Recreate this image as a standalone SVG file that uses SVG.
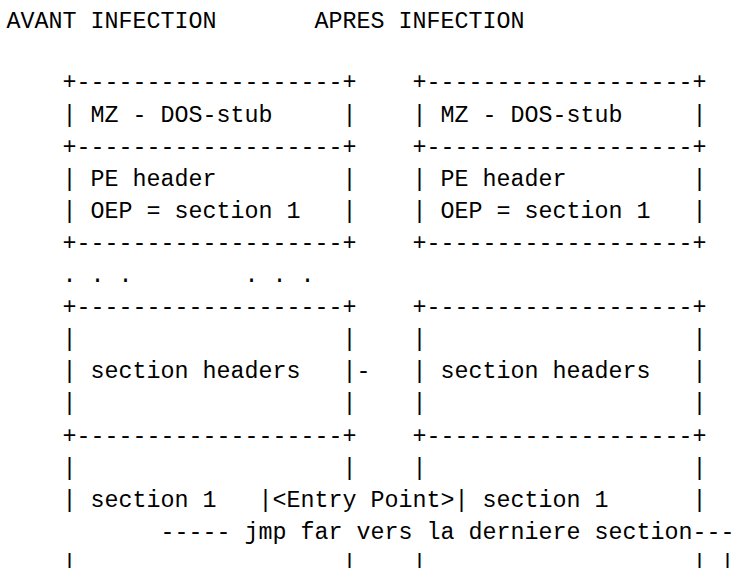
<svg xmlns="http://www.w3.org/2000/svg" width="733" height="568" viewBox="0 0 733 568" xml:space="preserve">
<style>
text{font-family:"Liberation Mono","DejaVu Sans Mono",monospace;font-size:23.333px;fill:#000;white-space:pre}
</style>
<rect width="733" height="568" fill="#fff"/>
<g id="titles">
<text x="6.5" y="28">AVANT INFECTION</text>
<text x="314.5" y="28">APRES INFECTION</text>
</g>
<g id="before-mz">
<text x="62.5" y="89.4">+-------------------+</text>
<text x="62.5" y="121.5">| MZ - DOS-stub</text>
<text x="342.5" y="121.5">|</text>
</g>
<g id="before-pe">
<text x="62.5" y="153.6">+-------------------+</text>
<text x="62.5" y="185.7">| PE header</text>
<text x="342.5" y="185.7">|</text>
<text x="62.5" y="217.8">| OEP = section 1</text>
<text x="342.5" y="217.8">|</text>
<text x="62.5" y="249.9">+-------------------+</text>
</g>
<g id="before-dots">
<text x="62.5" y="282">. . .</text>
<text x="244.5" y="282">. . .</text>
</g>
<g id="before-sechdr">
<text x="62.5" y="314.1">+-------------------+</text>
<text x="62.5" y="346.2">|</text>
<text x="342.5" y="346.2">|</text>
<text x="62.5" y="378.3">| section headers</text>
<text x="342.5" y="378.3">|</text>
<text x="62.5" y="410.4">|</text>
<text x="342.5" y="410.4">|</text>
<text x="62.5" y="442.5">+-------------------+</text>
</g>
<g id="before-sec1">
<text x="62.5" y="474.6">|</text>
<text x="342.5" y="474.6">|</text>
<text x="62.5" y="506.7">| section 1</text>
<text x="62.5" y="570.9">|</text>
<text x="342.5" y="570.9">|</text>
</g>
<g id="after-mz">
<text x="412.5" y="89.4">+-------------------+</text>
<text x="412.5" y="121.5">| MZ - DOS-stub</text>
<text x="692.5" y="121.5">|</text>
</g>
<g id="after-pe">
<text x="412.5" y="153.6">+-------------------+</text>
<text x="412.5" y="185.7">| PE header</text>
<text x="692.5" y="185.7">|</text>
<text x="412.5" y="217.8">| OEP = section 1</text>
<text x="692.5" y="217.8">|</text>
<text x="412.5" y="249.9">+-------------------+</text>
</g>
<g id="after-sechdr">
<text x="412.5" y="314.1">+-------------------+</text>
<text x="412.5" y="346.2">|</text>
<text x="692.5" y="346.2">|</text>
<text x="412.5" y="378.3">| section headers</text>
<text x="692.5" y="378.3">|</text>
<text x="412.5" y="410.4">|</text>
<text x="692.5" y="410.4">|</text>
<text x="412.5" y="442.5">+-------------------+</text>
</g>
<g id="after-sec1">
<text x="412.5" y="474.6">|</text>
<text x="692.5" y="474.6">|</text>
<text x="454.5" y="506.7">| section 1</text>
<text x="692.5" y="506.7">|</text>
<text x="412.5" y="570.9">|</text>
<text x="692.5" y="570.9">|</text>
</g>
<g id="connectors">
<text x="356.5" y="378.3">-</text>
<text x="258.5" y="506.7">|&lt;Entry Point&gt;</text>
<text x="160.5" y="538.8">----- jmp far vers la derniere section---</text>
<text x="720.5" y="570.9">|</text>
</g>
</svg>
